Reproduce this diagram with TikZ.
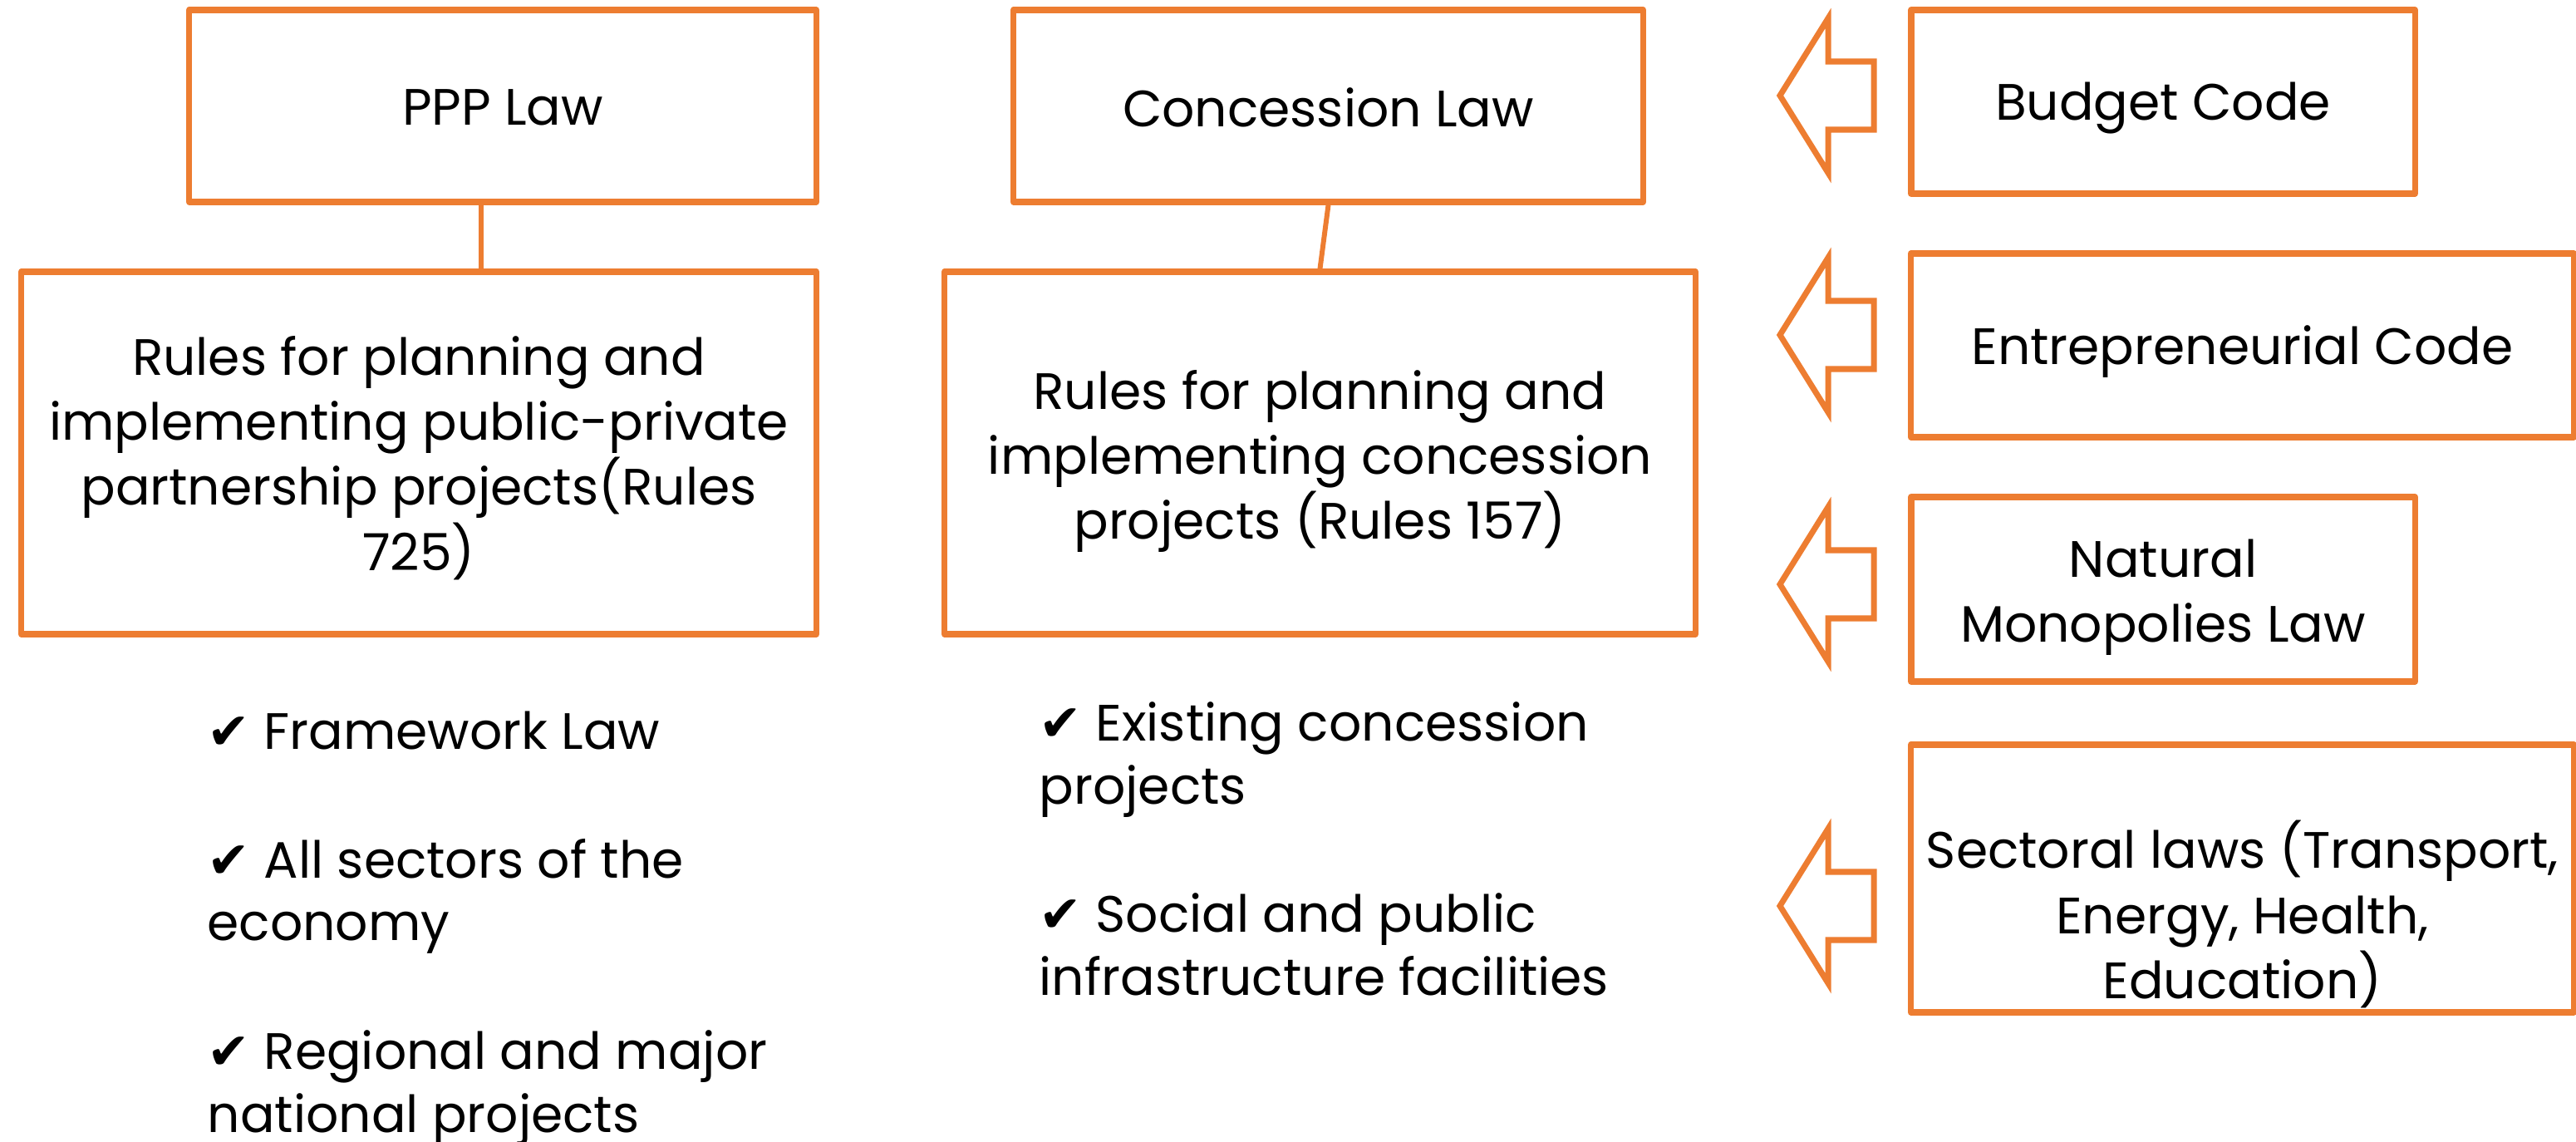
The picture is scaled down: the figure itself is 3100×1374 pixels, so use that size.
\documentclass[tikz,border=0pt]{standalone}
\usepackage{fontspec}
\setmainfont{Poppins}
\newfontfamily\checkfont{DejaVu Sans}
\definecolor{accent}{HTML}{ED7D31}
\newcommand{\tick}{{\checkfont ✔}}
\tikzset{
  txt/.style={font=\fontsize{17.5}{22.3}\selectfont},
  lawbox/.style={draw=accent, line width=2.1pt, line join=round, inner sep=0pt},
  lawtext/.style={inner sep=0pt, align=center, txt},
  link/.style={draw=accent, line width=1.7pt},
  pointer/.style={draw=accent, line width=2pt, line join=miter},
  item/.style={anchor=base west, inner sep=0pt, txt},
  leftarrow/.pic={
    \draw[pointer] (-113,0) -- (-55,-93) -- (-55,-41) -- (0,-41) -- (0,41)
                   -- (-55,41) -- (-55,93) -- cycle;
  }
}
\begin{document}
\begin{tikzpicture}[x=0.01cm, y=-0.01cm]
  \useasboundingbox (0,0) rectangle (3100,1374);

  % main laws and their rules
  \node[lawbox, minimum width=7.54cm, minimum height=2.31cm] (ppp) at (605,127.5) {};
  \node[lawbox, minimum width=7.57cm, minimum height=2.31cm] (conc) at (1598.5,127.5) {};
  \node[lawbox, minimum width=9.56cm, minimum height=4.36cm] (rppp) at (504,545) {};
  \node[lawbox, minimum width=9.03cm, minimum height=4.36cm] (rconc) at (1588.5,545) {};

  \node[lawtext] (ppp-t) at ([yshift=-0.02cm]ppp.center) {PPP Law};
  \node[lawtext] (conc-t) at ([yshift=-0.02cm]conc.center) {Concession Law};
  \node[lawtext] (rppp-t) at ([yshift=-0.06cm]rppp.center)
    {Rules for planning and\\implementing public-private\\partnership projects(Rules\\725)};
  \node[lawtext] (rconc-t) at ([yshift=-0.10cm]rconc.center)
    {Rules for planning and\\implementing concession\\projects (Rules 157)};

  \draw[link] ([xshift=-0.26cm]ppp.south) -- ([xshift=-0.26cm]ppp.south |- rppp.north);
  \draw[link] (conc.south) -- (rconc.north);

  % related legislation
  \node[lawbox, minimum width=6.06cm, minimum height=2.21cm] (budget) at (2603,122.5) {};
  \node[lawbox, minimum width=7.97cm, minimum height=2.21cm] (entr) at (2698.5,415.5) {};
  \node[lawbox, minimum width=6.06cm, minimum height=2.22cm] (natmon) at (2603,709) {};
  \node[lawbox, minimum width=7.97cm, minimum height=3.22cm] (sect) at (2698.5,1057) {};

  \node[lawtext] (budget-t) at ([yshift=-0.08cm]budget.center) {Budget Code};
  \node[lawtext] (entr-t) at ([yshift=-0.08cm]entr.center) {Entrepreneurial Code};
  \node[lawtext] (natmon-t) at ([yshift=-0.10cm]natmon.center) {Natural\\Monopolies Law};
  \node[lawtext] (sect-t) at ([yshift=-0.43cm]sect.center)
    {Sectoral laws (Transport,\\Energy, Health,\\Education)};

  \pic (a1) at (2255,115) {leftarrow};
  \pic (a2) at (2255,403) {leftarrow};
  \pic (a3) at (2255,703) {leftarrow};
  \pic (a4) at (2255,1090) {leftarrow};

  % scope of the PPP law
  \node[item] (p1) at (249,902) {\tick\ Framework Law};
  \node[item] (p2) at (249,1057) {\tick\ All sectors of the};
  \node[item] (p2b) at (249,1132) {economy};
  \node[item] (p3) at (249,1287) {\tick\ Regional and major};
  \node[item] (p3b) at (249,1362) {national projects};

  % scope of the concession law
  \node[item] (c1) at (1250,892) {\tick\ Existing concession};
  \node[item] (c1b) at (1250,968) {projects};
  \node[item] (c2) at (1250,1122) {\tick\ Social and public};
  \node[item] (c2b) at (1250,1198) {infrastructure facilities};
\end{tikzpicture}
\end{document}
